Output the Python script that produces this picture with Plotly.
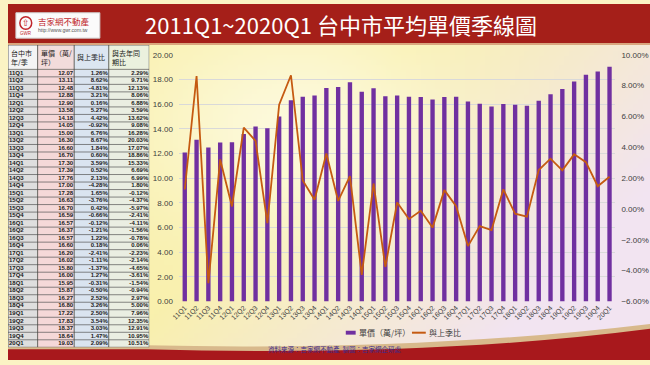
import base64, struct, zlib
import numpy as np
import plotly.graph_objects as go

# ---------------- data ----------------
quarters = ["11Q1","11Q2","11Q3","11Q4","12Q1","12Q2","12Q3","12Q4","13Q1","13Q2","13Q3","13Q4",
            "14Q1","14Q2","14Q3","14Q4","15Q1","15Q2","15Q3","15Q4","16Q1","16Q2","16Q3","16Q4",
            "17Q1","17Q2","17Q3","17Q4","18Q1","18Q2","18Q3","18Q4","19Q1","19Q2","19Q3","19Q4","20Q1"]
price = [12.07,13.11,12.48,12.88,12.90,13.58,14.18,14.05,15.00,16.30,16.60,16.70,
         17.30,17.39,17.76,17.00,17.28,16.63,16.70,16.59,16.57,16.37,16.57,16.60,
         16.20,16.02,15.80,16.00,15.95,15.87,16.27,16.80,17.22,17.83,18.37,18.64,19.03]
qoq = [1.26,8.62,-4.81,3.21,0.16,5.27,4.42,-0.92,6.76,8.67,1.84,0.60,
       3.59,0.52,2.13,-4.28,1.65,-3.76,0.42,-0.66,-0.12,-1.21,1.22,0.18,
       -2.41,-1.11,-1.37,1.27,-0.31,-0.50,2.52,3.26,2.50,3.54,3.03,1.47,2.09]
yoy = [2.29,9.71,12.13,8.06,6.88,3.59,13.62,9.08,16.28,20.03,17.07,18.86,
       15.33,6.69,6.99,1.80,-0.12,-4.37,-5.97,-2.41,-4.11,-1.56,-0.78,0.06,
       -2.23,-2.14,-4.65,-3.61,-1.54,-0.94,2.97,5.00,7.96,12.35,12.91,10.95,10.51]
table_headers = ["台中市<br>年/季", "單價（萬/<br>坪）", "與上季比", "與去年同<br>期比"]
bar_name = "單價（萬/坪）"
line_name = "與上季比"
title_text = "2011Q1~2020Q1 台中市平均單價季線圖"
source_text = "資料來源：吉家網不動產  製圖：吉家網企研處"

W, H = 650, 365
def px(x): return x / W
def py(y): return 1 - y / H

# ---------------- background gradient image ----------------
def png_uri(arr):
    h, w, _ = arr.shape
    raw = b"".join(b"\x00" + arr[i].tobytes() for i in range(h))
    def chunk(t, d):
        c = struct.pack(">I", len(d)) + t + d
        return c + struct.pack(">I", zlib.crc32(t + d) & 0xffffffff)
    png = b"\x89PNG\r\n\x1a\n" + chunk(b"IHDR", struct.pack(">IIBBBBB", w, h, 8, 2, 0, 0, 0)) \
          + chunk(b"IDAT", zlib.compress(raw, 9)) + chunk(b"IEND", b"")
    return "data:image/png;base64," + base64.b64encode(png).decode()

gw, gh = 130, 73
u = np.linspace(0, 1, gw)[None, :]
v = np.linspace(0, 1, gh)[:, None]
Y = np.array([249, 240, 172], float)
L = np.array([242, 228, 242], float)
Wc = np.array([254, 253, 236], float)
t = np.clip((u - 0.5) * 1.7 + (v - 0.35) * 0.9, 0, 1)[..., None]
g = (0.75 * np.exp(-(((u - 0.45) ** 2) / 0.06 + ((v - 0.35) ** 2) / 0.10)))[..., None]
img = Y * (1 - t) + L * t
img = img * (1 - g) + Wc * g
bg_uri = png_uri(np.clip(img, 0, 255).astype(np.uint8))

# ---------------- table geometry (in table-axis units = px) ----------------
col_edges = [0, 30, 67, 102, 143]
tab_top, head_bot, tab_bot = 42, 67, 352
n = len(quarters)
row_h = (tab_bot - head_bot) / n
row_c = [head_bot + (i + 0.5) * row_h for i in range(n)]
head_fill = ["#f4f4f4", "#f2dcdb", "#dce6f1", "#ebf1de"]
cell_fill = ["#dedede", "#f5d8d8", "#dae4f0", "#eaeee2"]

fig = go.Figure()

fig.add_trace(go.Bar(x=quarters, y=price, name=bar_name, marker=dict(color="#7030a0", line=dict(width=0)),
                     xaxis="x", yaxis="y", showlegend=False))
fig.add_trace(go.Scatter(x=quarters, y=qoq, name=line_name, mode="lines",
                         line=dict(color="#c55a11", width=1.8), xaxis="x", yaxis="y2", showlegend=False))

# table text via a text-only scatter on its own axes
tfont = dict(family="Liberation Sans", size=6, color="#1a1a1a")
cols_text = [["<b>%s</b>" % q for q in quarters],
             ["<b>%.2f</b>" % p for p in price],
             ["<b>%.2f%%</b>" % q for q in qoq],
             ["<b>%.2f%%</b>" % y for y in yoy]]
for ci, texts in enumerate(cols_text):
    if ci == 0:
        xs = [col_edges[0] + 1] * n
        pos = "middle right"
    else:
        xs = [col_edges[ci + 1] - 1] * n
        pos = "middle left"
    fig.add_trace(go.Scatter(x=xs, y=row_c, text=texts, mode="text", textposition=pos,
                             textfont=tfont, xaxis="x3", yaxis="y3", showlegend=False, hoverinfo="skip"))

shapes = [
    # header band
    dict(type="rect", xref="paper", yref="paper", x0=0, x1=1, y0=py(42), y1=1,
         fillcolor="#d9a67e", line=dict(width=0), layer="below"),
    dict(type="rect", xref="paper", yref="paper", x0=0, x1=1, y0=py(40), y1=1,
         fillcolor="#a51f19", line=dict(width=0), layer="below"),
    # bottom swoosh
    dict(type="path", xref="paper", yref="paper",
         path="M 0,%f L %f,%f Q %f,%f 1,%f L 1,0 L 0,0 Z" % (py(352), px(140), py(350), px(420), py(356), py(328)),
         fillcolor="#d8b98c", line=dict(width=0), layer="below"),
    dict(type="path", xref="paper", yref="paper",
         path="M 0,%f L %f,%f Q %f,%f 1,%f L 1,0 L 0,0 Z" % (py(354), px(140), py(354), px(430), py(362), py(333)),
         fillcolor="#a8181c", line=dict(width=0), layer="below"),
    # logo box
    dict(type="rect", xref="paper", yref="paper", x0=px(8), x1=px(93), y0=py(35), y1=py(9),
         fillcolor="#fbfbfb", line=dict(color="#d0d0d0", width=1)),
    dict(type="circle", xref="paper", yref="paper", x0=px(12), x1=px(24), y0=py(26), y1=py(13),
         fillcolor="#fbfbfb", line=dict(color="#c0262b", width=1.5)),
    # legend (manual)
    dict(type="rect", xref="paper", yref="paper", x0=px(342), x1=px(352), y0=py(339), y1=py(335),
         fillcolor="#7030a0", line=dict(width=0)),
    dict(type="line", xref="paper", yref="paper", x0=px(409), x1=px(423), y0=py(337), y1=py(337),
         line=dict(color="#c55a11", width=2)),
]
# table cells
for ci in range(4):
    shapes.append(dict(type="rect", xref="x3", yref="y3", x0=col_edges[ci], x1=col_edges[ci + 1],
                       y0=tab_top, y1=head_bot, fillcolor=head_fill[ci], line=dict(width=0), layer="below"))
    shapes.append(dict(type="rect", xref="x3", yref="y3", x0=col_edges[ci], x1=col_edges[ci + 1],
                       y0=head_bot, y1=tab_bot, fillcolor=cell_fill[ci], line=dict(width=0), layer="below"))
for i in range(n):
    yb = head_bot + i * row_h
    shapes.append(dict(type="line", xref="x3", yref="y3", x0=0, x1=col_edges[-1], y0=yb, y1=yb,
                       line=dict(color="#555555", width=0.7)))
for xe in col_edges:
    shapes.append(dict(type="line", xref="x3", yref="y3", x0=xe, x1=xe, y0=tab_top, y1=tab_bot,
                       line=dict(color="#444444", width=0.8)))
shapes.append(dict(type="line", xref="x3", yref="y3", x0=0, x1=col_edges[-1], y0=tab_top, y1=tab_top,
                   line=dict(color="#444444", width=0.8)))
shapes.append(dict(type="line", xref="x3", yref="y3", x0=0, x1=col_edges[-1], y0=tab_bot, y1=tab_bot,
                   line=dict(color="#444444", width=0.8)))

annotations = [
    dict(text=title_text, xref="paper", yref="paper", x=px(137), y=py(21), xanchor="left", yanchor="middle",
         showarrow=False, font=dict(family="Noto Sans CJK TC", size=22, color="white")),
    dict(text="吉家網不動產", xref="paper", yref="paper", x=px(28), y=py(17), xanchor="left", yanchor="middle",
         showarrow=False, font=dict(family="Noto Sans CJK TC", size=8.5, color="#c0262b")),
    dict(text="http://www.gwr.com.tw", xref="paper", yref="paper", x=px(28), y=py(27), xanchor="left",
         yanchor="middle", showarrow=False, font=dict(family="Liberation Sans", size=5, color="#555")),
    dict(text="⇧", xref="paper", yref="paper", x=px(18), y=py(19.5), xanchor="center", yanchor="middle",
         showarrow=False, font=dict(family="DejaVu Sans", size=9, color="#c0262b")),
    dict(text="GWR", xref="paper", yref="paper", x=px(18), y=py(30), xanchor="center", yanchor="middle",
         showarrow=False, font=dict(family="Liberation Sans", size=4.5, color="#c0262b")),
    dict(text=source_text, xref="paper", yref="paper", x=px(331), y=py(354), xanchor="center", yanchor="middle",
         showarrow=False, font=dict(family="Noto Sans CJK TC", size=6.5, color="#3d2a8c")),
    dict(text=bar_name, xref="paper", yref="paper", x=px(353), y=py(337), xanchor="left", yanchor="middle",
         showarrow=False, font=dict(family="Noto Sans CJK TC", size=8, color="#404040")),
    dict(text=line_name, xref="paper", yref="paper", x=px(424), y=py(337), xanchor="left", yanchor="middle",
         showarrow=False, font=dict(family="Noto Sans CJK TC", size=8, color="#404040")),
]
head_align = ["left", "left", "center", "left"]
for ci, htxt in enumerate(table_headers):
    if head_align[ci] == "left":
        hx, xa = col_edges[ci] + 1, "left"
    else:
        hx, xa = (col_edges[ci] + col_edges[ci + 1]) / 2, "center"
    annotations.append(dict(text=htxt, xref="x3", yref="y3", x=hx, y=(tab_top + head_bot) / 2,
                            xanchor=xa, yanchor="middle", align="left", showarrow=False,
                            font=dict(family="Noto Sans CJK TC", size=7, color="#1a1a1a")))

fig.update_layout(
    width=W, height=H,
    margin=dict(l=0, r=0, t=0, b=0),
    paper_bgcolor="#fbf3c4",
    plot_bgcolor="rgba(0,0,0,0)",
    images=[dict(source=bg_uri, xref="paper", yref="paper", x=0, y=1, sizex=1, sizey=1,
                 sizing="stretch", layer="below")],
    shapes=shapes,
    annotations=annotations,
    bargap=0.63,
    showlegend=False,
    xaxis=dict(domain=[px(173), px(615)], type="category", tickangle=-45,
               tickfont=dict(family="Liberation Sans", size=7, color="#404040"),
               showgrid=False, showline=False, ticks="", anchor="y"),
    yaxis=dict(domain=[py(305), py(52)], range=[0, 20], dtick=2, tickformat=".2f",
               tickfont=dict(family="Liberation Sans", size=8, color="#404040"),
               gridcolor="#d9d9d9", gridwidth=1, zeroline=False, showline=False, ticks="",
               ticklabelstandoff=5, anchor="x"),
    yaxis2=dict(domain=[py(305), py(52)], range=[-6, 10], dtick=2, tickformat=".2f", ticksuffix="%",
                overlaying="y", side="right", anchor="x",
                tickfont=dict(family="Liberation Sans", size=8, color="#404040"),
                ticklabelstandoff=5, showgrid=False, zeroline=False, showline=False, ticks=""),
    xaxis3=dict(domain=[0, px(col_edges[-1])], range=[0, col_edges[-1]], visible=False, fixedrange=True,
                anchor="y3"),
    yaxis3=dict(domain=[py(tab_bot), py(tab_top)], range=[tab_bot, tab_top], visible=False, fixedrange=True,
                anchor="x3"),
)

fig.write_html("out.html", config={"displayModeBar": False},
               post_script="document.body.style.margin='0';document.body.style.overflow='hidden';")
